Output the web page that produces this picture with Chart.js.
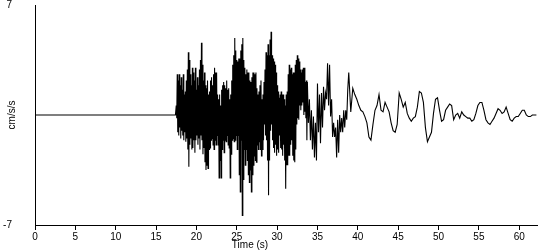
<!DOCTYPE html>
<html>
<head>
<meta charset="utf-8">
<title>Acceleration record</title>
<script src="https://cdn.jsdelivr.net/npm/chart.js@4.4.1/dist/chart.umd.min.js"></script>
<style>
  body { margin: 0; background: #fff; }
  canvas { display: block; }
</style>
</head>
<body>
<canvas id="accelChart" width="550" height="250"></canvas>
<script>
// quiet part before the first arrival (seconds, cm/s/s)
const quietTimes = [0, 17.4];
const quietValues = [0, 0];

// strong motion, sampled every 0.0625 s from 17.5 s
const strongStart = 17.5;
const strongStep = 0.0625;
const strongValues = [
  0.6,-0.2, 2.6,-1.1, 2.2,-1.3, 2.6,-0.8, 1.9,-1.5, 2.4,-1.0, 1.6,-1.3, 2.6,-1.6, 1.3,-1.1, 1.5,-1.7,
  2.2,-1.5, 2.9,-2.2, 4.0,-3.3, 3.5,-1.9, 2.6,-1.5, 1.9,-2.2, 3.0,-2.1, 2.7,-1.6, 2.2,-2.4, 3.0,-1.6,
  1.6,-1.3, 2.4,-1.9, 1.9,-1.5, 2.9,-2.2, 3.5,-1.3, 4.6,-1.6, 3.2,-2.5, 2.2,-2.1, 2.7,-3.0, 1.9,-3.5,
  1.7,-3.2, 2.2,-3.4, 1.3,-2.2, 1.5,-2.1, 2.2,-1.6, 2.4,-1.5, 1.9,-1.9, 2.6,-2.2, 3.0,-1.6, 2.7,-1.9,
  2.7,-1.3, 1.3,-1.9, 1.0,-4.0, 1.3,-2.9, 0.6,-4.0, 1.6,-2.2, 1.9,-1.6, 2.1,-2.4, 1.9,-1.6, 1.7,-1.7,
  2.2,-1.3, 1.6,-1.9, 1.7,-2.1, 1.0,-4.0, 1.3,-2.5, 2.2,-1.6, 3.2,-1.5, 3.8,-1.7, 4.9,-1.6, 4.1,-1.3,
  3.5,-2.2, 3.4,-1.3, 3.6,-3.8, 3.6,-4.9, 4.1,-1.6, 4.5,-6.4, 4.9,-4.1, 3.5,-2.2, 3.0,-3.2, 2.6,-2.2,
  2.9,-2.9, 2.7,-3.8, 2.7,-4.3, 2.2,-3.5, 2.1,-4.9, 2.4,-3.8, 2.7,-3.2, 2.7,-2.6, 2.6,-2.9, 2.7,-3.0,
  1.7,-1.9, 1.3,-2.2, 1.5,-1.7, 1.9,-2.2, 2.2,-2.6, 1.0,-2.2, 1.3,-1.6, 2.1,-0.6, 2.9,-1.3, 4.0,-1.6,
  3.8,-2.9, 4.5,-5.1, 3.8,-2.9, 4.8,-1.0, 5.3,-0.6, 3.8,-1.6, 3.6,-2.1, 3.4,-2.4, 3.2,-1.9, 2.7,-2.6,
  1.9,-2.2, 1.5,-2.4, 1.1,-1.3, 1.3,-2.1, 1.5,-2.2, 1.3,-2.6, 1.3,-1.9, 1.0,-2.9, 0.6,-4.7, 1.3,-3.2,
  1.5,-3.2, 2.6,-2.6, 3.2,-2.6, 2.9,-1.9, 3.0,-1.6, 2.6,-2.6, 2.7,-2.9, 2.7,-3.0, 3.2,-2.2, 3.5,-0.6,
  3.8,-0.2, 3.6,-0.3, 3.4, 0.6, 2.9, 0.3, 2.7, 0.6, 2.9, 0.8, 3.0, 0.0, 3.0, 0.2, 2.1,-0.2, 2.2,-1.6
];

// tail of the strong motion, sampled every 0.125 s from 33.75 s
const tailStart = 33.75;
const tailStep = 0.125;
const tailValues = [
  2.1, -0.5, 1.0, -1.6, 0.3, -2.2, -0.1, -2.7, -0.5, -2.9,
  2.0, -1.1, 1.3, -1.8, 1.4, -0.8, 1.8, 0.3, 1.4, 1.0,
  3.3, 0.6, 3.2, -0.1, 1.0, -1.4, -0.5, -1.4, -0.8, -2.7,
  -0.3, -2.4, 0.0, -1.1, -0.2, -1.1, 0.3, -0.8, 0.3, -0.3,
  1.6, 2.7
];

// coda, sampled every 0.25 s from 39.125 s
const codaStart = 39.125;
const codaStep = 0.25;
const codaValues = [
  0.2, 1.7, 1.3, 1.0, 0.6, 0.3, 0.2, -0.1, -0.5, -1.4,
  -1.6, -0.6, 0.3, 0.6, 1.3, 0.3, 0.2, 0.8, 0.5, 0.2,
  -0.5, -1.0, -1.1, -0.6, 1.4, 1.0, 0.5, 0.8, 0.1, -0.2,
  -0.4, -0.2, -0.1, 0.5, 1.5, 1.4, 0.8, -0.8, -1.7, -1.4,
  -1.1, 0.1, 1.0, 1.1, 0.3, -0.4, -0.3, 0.3, 0.5, 0.7,
  0.6, -0.3, 0.0, 0.1, -0.2, 0.2, 0.0, -0.1, -0.2, -0.2,
  -0.4, -0.3, 0.1, 0.6, 0.8, 0.8, 0.3, -0.3, -0.5, -0.6,
  -0.4, -0.2, 0.1, 0.4, 0.3, 0.1, 0.2, 0.5, 0.1, -0.3,
  -0.4, -0.2, -0.1, -0.1, 0.1, 0.3, 0.3, 0.0, -0.1, -0.1,
  0.0, 0.0, 0.0
];

const xTitle = "Time (s)";
const yTitle = "cm/s/s";
const yTickValues = [-7, 7];

const points = [];
quietTimes.forEach((t, i) => points.push({ x: t, y: quietValues[i] }));
strongValues.forEach((v, i) => points.push({ x: strongStart + i * strongStep, y: v }));
tailValues.forEach((v, i) => points.push({ x: tailStart + i * tailStep, y: v }));
codaValues.forEach((v, i) => points.push({ x: codaStart + i * codaStep, y: v }));

const axisFont = { family: "'Liberation Sans', Arial, sans-serif", size: 10 };

// x title sits a bit left of centre in the original, so draw it by hand
const xTitlePlugin = {
  id: "xTitle",
  afterDraw(chart) {
    const c = chart.ctx;
    c.save();
    c.font = "10px 'Liberation Sans', Arial, sans-serif";
    c.fillStyle = "#000";
    c.textAlign = "center";
    c.textBaseline = "middle";
    c.fillText(xTitle, 250, 245);
    c.restore();
  }
};

Chart.defaults.color = "#000";

const ctx = document.getElementById("accelChart").getContext("2d");
const accelChart = new Chart(ctx, {
  type: "line",
  data: {
    datasets: [{
      data: points,
      borderColor: "#000",
      borderWidth: 1.1,
      pointRadius: 0,
      tension: 0,
      fill: false
    }]
  },
  options: {
    responsive: false,
    animation: false,
    parsing: false,
    layout: { padding: { left: 0, right: 13, top: 0, bottom: 0 } },
    plugins: { legend: { display: false }, tooltip: { enabled: false } },
    scales: {
      x: {
        type: "linear",
        min: 0,
        max: 62.2,
        afterFit: s => { s.height = 25; },
        border: { display: true, color: "#000", width: 1 },
        grid: { display: true, drawOnChartArea: false, drawTicks: true, tickLength: 5, color: "#000" },
        ticks: { stepSize: 5, includeBounds: false, maxRotation: 0, autoSkip: false, padding: 1, font: axisFont }
      },
      y: {
        type: "linear",
        min: -7,
        max: 7,
        // big label padding pushes the labels left; keep it from shrinking the plot
        afterFit: s => { s.width = 35; s.paddingTop = 5; s.paddingBottom = 5; },
        afterBuildTicks: s => { s.ticks = yTickValues.map(v => ({ value: v })); },
        border: { display: true, color: "#000", width: 1 },
        grid: { display: false, drawTicks: false },
        ticks: { padding: 23, font: axisFont },
        title: { display: true, text: yTitle, font: axisFont, padding: { top: 6, bottom: 0 } }
      }
    }
  },
  plugins: [xTitlePlugin]
});
</script>
</body>
</html>
